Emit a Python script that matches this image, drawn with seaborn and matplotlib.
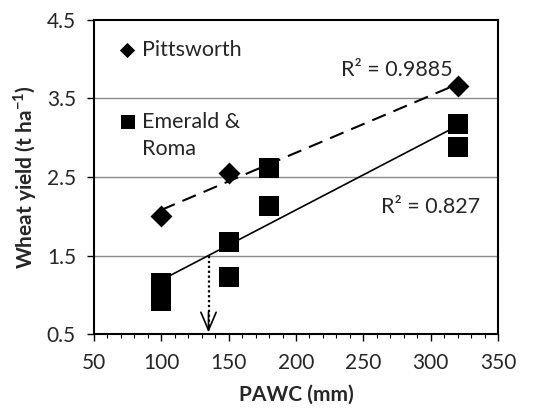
import numpy as np
import pandas as pd
import matplotlib
matplotlib.use("Agg")
import matplotlib.pyplot as plt
from matplotlib.ticker import MultipleLocator
import seaborn as sns

# Plant-available water capacity (mm) and wheat yield (t/ha)
pitts_pawc = [100, 150, 320]
pitts_yield = [2.00, 2.55, 3.66]

emroma_pawc = [100, 100, 150, 150, 180, 180, 320, 320]
emroma_yield = [1.15, 0.92, 1.67, 1.22, 2.61, 2.13, 3.17, 2.88]

r2_labels = ["R² = 0.9885", "R² = 0.827"]
x_ticks = [50, 100, 150, 200, 250, 300, 350]
y_ticks = [0.5, 1.5, 2.5, 3.5, 4.5]
target_yield = 1.5

pitts = pd.DataFrame({"pawc": pitts_pawc, "yield": pitts_yield})
emroma = pd.DataFrame({"pawc": emroma_pawc, "yield": emroma_yield})

sns.set_style("ticks")
plt.rcParams["font.family"] = ["Lato", "DejaVu Sans"]
plt.rcParams["mathtext.fontset"] = "custom"
plt.rcParams["mathtext.rm"] = "Lato"
plt.rcParams["mathtext.bf"] = "Lato:bold"

fig = plt.figure(figsize=(5.36, 4.12), dpi=100)
ax = fig.add_axes([0.1754, 0.1893, 0.7537, 0.7622])

# horizontal gridlines
for yv in y_ticks[1:-1]:
    ax.axhline(yv, color="#8a8a8a", lw=1.0, zorder=0)

# fitted trend lines
sns.regplot(data=pitts, x="pawc", y="yield", scatter=False, ci=None, ax=ax,
            line_kws=dict(color="black", lw=1.5, linestyle=(0, (7, 4))))
sns.regplot(data=emroma, x="pawc", y="yield", scatter=False, ci=None, ax=ax,
            line_kws=dict(color="black", lw=1.2))

# observations
sns.scatterplot(data=emroma, x="pawc", y="yield", marker="s", s=210,
                color="black", linewidth=0, ax=ax, zorder=3)
sns.scatterplot(data=pitts, x="pawc", y="yield", marker="D", s=125,
                color="black", linewidth=0, ax=ax, zorder=3)

# PAWC needed for the target yield, from the Emerald & Roma fit
m, b = np.polyfit(emroma_pawc, emroma_yield, 1)
x_target = (target_yield - b) / m
ax.plot([x_target, x_target], [target_yield, 0.56], color="black", lw=1.6,
        linestyle=(0, (1.0, 1.2)), zorder=2)
ax.annotate("", xy=(x_target, 0.52), xytext=(x_target, 0.78),
            arrowprops=dict(arrowstyle="->,head_length=1.3,head_width=0.55",
                            color="black", lw=1.2, shrinkA=0, shrinkB=0))

# R² annotations
ax.text(275, 3.86, r2_labels[0], ha="center", va="center", fontsize=15.5)
ax.text(300, 2.12, r2_labels[1], ha="center", va="center", fontsize=15.5)

# inline key
ax.scatter([0.082], [0.904], marker="D", s=60, color="black", linewidth=0,
           transform=ax.transAxes, clip_on=False, zorder=4)
ax.text(0.118, 0.904, "Pittsworth", transform=ax.transAxes, ha="left",
        va="center", fontsize=15.5)
ax.scatter([0.084], [0.675], marker="s", s=100, color="black", linewidth=0,
           transform=ax.transAxes, clip_on=False, zorder=4)
ax.text(0.118, 0.675, "Emerald &", transform=ax.transAxes, ha="left",
        va="center", fontsize=15.5)
ax.text(0.118, 0.588, "Roma", transform=ax.transAxes, ha="left",
        va="center", fontsize=15.5)

ax.set_xlim(x_ticks[0], x_ticks[-1])
ax.set_ylim(y_ticks[0], y_ticks[-1])
ax.set_xticks(x_ticks)
ax.set_yticks(y_ticks)
ax.set_yticklabels([f"{v:.1f}" for v in y_ticks])
ax.xaxis.set_minor_locator(MultipleLocator(10))
ax.tick_params(axis="both", which="major", labelsize=15, length=5,
               width=1, color="black", direction="out")
ax.tick_params(axis="x", which="minor", length=3, width=0.8, color="black",
               direction="out")
ax.tick_params(axis="x", pad=9)
ax.tick_params(axis="y", pad=8)

for side in ["left", "right", "top", "bottom"]:
    ax.spines[side].set_visible(True)
    ax.spines[side].set_color("black")
    ax.spines[side].set_linewidth(1.5)

ax.set_xlabel("PAWC (mm)", fontsize=15, fontweight="bold", labelpad=8)
ax.set_ylabel(r"Wheat yield (t ha$^{\mathbf{-1}}$)", fontsize=15,
              fontweight="bold", labelpad=6)

fig.savefig("out.png", dpi=100)
